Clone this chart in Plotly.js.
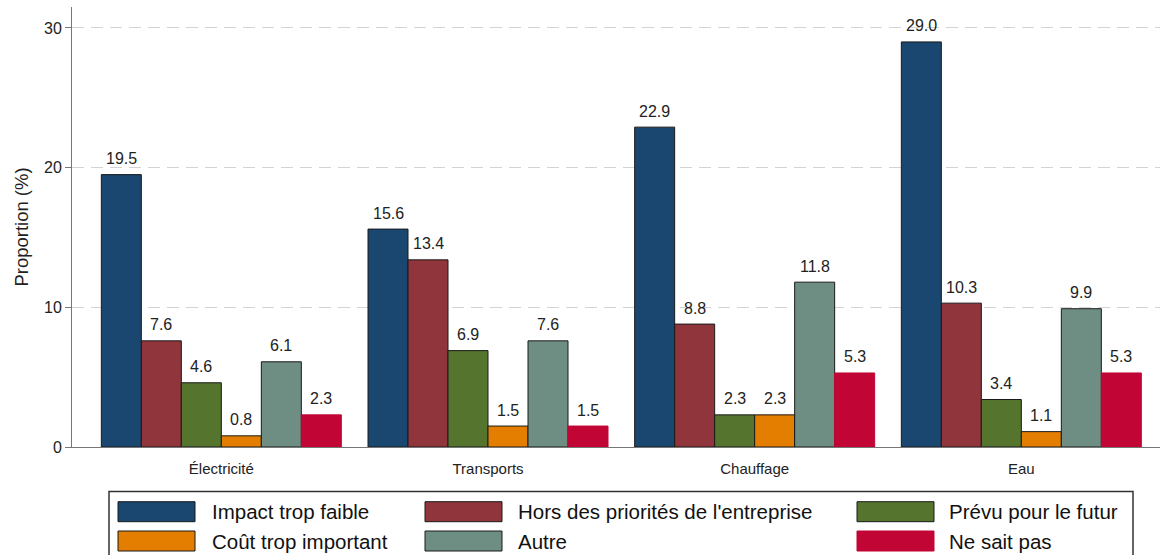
<!DOCTYPE html>
<html>
<head>
<meta charset="utf-8">
<script src="https://cdn.plot.ly/plotly-3.0.1.min.js"></script>
<style>html,body{margin:0;padding:0;background:#fff;}#chart{width:1164px;height:555px;}</style>
</head>
<body>
<div id="chart"></div>
<script>
// ---- data ----
var categories = ["Électricité", "Transports", "Chauffage", "Eau"];
var seriesNames = ["Impact trop faible", "Hors des priorités de l'entreprise", "Prévu pour le futur",
                   "Coût trop important", "Autre", "Ne sait pas"];
var impactTropFaible   = [19.5, 15.6, 22.9, 29.0];
var horsPriorites      = [7.6, 13.4, 8.8, 10.3];
var prevuFutur         = [4.6, 6.9, 2.3, 3.4];
var coutTropImportant  = [0.8, 1.5, 2.3, 1.1];
var autre              = [6.1, 7.6, 11.8, 9.9];
var neSaitPas          = [2.3, 1.5, 5.3, 5.3];
var yTicks = [0, 10, 20, 30];

// ---- styles ----
var seriesValues = [impactTropFaible, horsPriorites, prevuFutur, coutTropImportant, autre, neSaitPas];
var colors = ["#1a476f", "#90353b", "#55752f", "#e37e00", "#6e8e84", "#c10534"];
var outlines = ["#1a1a1a", "#1a1a1a", "#1a1a1a", "#1a1a1a", "#1a1a1a", "#c10534"];
var FONT = "Liberation Sans, Arial, sans-serif";
var BARGAP = 0.1;

var W = 1164, H = 555, ML = 72, MR = 4, MT = 7, MB = 108;
var PW = W - ML - MR, PH = H - MT - MB;
function px2x(px) { return (px - ML) / PW; }
function py2y(py) { return (H - MB - py) / PH; }

var nS = seriesValues.length;
var slot = (1 - BARGAP) / nS;

var traces = seriesValues.map(function (vals, i) {
  return {
    type: "bar",
    name: seriesNames[i],
    x: categories,
    y: vals,
    marker: { color: colors[i], line: { color: outlines[i], width: 1 } },
    hoverinfo: "skip"
  };
});

var shapes = [];
var annotations = [];

// ---- value labels above bars ----
seriesValues.forEach(function (vals, s) {
  vals.forEach(function (v, c) {
    annotations.push({
      xref: "x", yref: "y",
      x: c + (s - (nS - 1) / 2) * slot, y: v,
      xanchor: "center", yanchor: "middle", yshift: 16,
      showarrow: false, text: v.toFixed(1),
      font: { family: FONT, size: 16, color: "#222" }
    });
  });
});

// ---- custom legend ----
shapes.push({
  type: "rect", xref: "paper", yref: "paper",
  x0: px2x(109), x1: px2x(1133), y0: py2y(491.5), y1: py2y(565),
  line: { color: "#333", width: 1.5 }, fillcolor: "rgba(0,0,0,0)"
});
var swatchLeft = [118, 425, 857];
var textLeft = [210, 516, 947];
var rowCenter = [511.7, 541];
seriesNames.forEach(function (name, i) {
  var col = i % 3, row = Math.floor(i / 3);
  shapes.push({
    type: "rect", xref: "paper", yref: "paper",
    x0: px2x(swatchLeft[col]), x1: px2x(swatchLeft[col] + 77),
    y0: py2y(rowCenter[row] + 10), y1: py2y(rowCenter[row] - 10),
    fillcolor: colors[i], line: { color: outlines[i], width: 1 }
  });
  annotations.push({
    xref: "paper", yref: "paper",
    x: px2x(textLeft[col]), y: py2y(rowCenter[row]),
    xanchor: "left", yanchor: "middle", showarrow: false,
    text: name, font: { family: FONT, size: 20.5, color: "#111" }
  });
});

var layout = {
  width: W, height: H,
  margin: { l: ML, r: MR, t: MT, b: MB, pad: 0 },
  paper_bgcolor: "#fff", plot_bgcolor: "#fff",
  showlegend: false,
  barmode: "group", bargap: BARGAP, bargroupgap: 0,
  font: { family: FONT, color: "#222" },
  xaxis: {
    type: "category",
    range: [-0.56, 3.52],
    showline: true, linecolor: "#777", linewidth: 1,
    ticks: "", showgrid: false, zeroline: false,
    tickfont: { family: FONT, size: 15, color: "#222" },
    ticklabelstandoff: 8
  },
  yaxis: {
    range: [0, 31.5],
    tickvals: yTicks,
    ticktext: yTicks.map(String),
    ticks: "outside", ticklen: 6, tickcolor: "#777", tickwidth: 1,
    showline: true, linecolor: "#777", linewidth: 1,
    showgrid: true, gridcolor: "#d3d3d3", griddash: "12px,7px", gridwidth: 1,
    zeroline: false,
    tickfont: { family: FONT, size: 16, color: "#222" },
    title: { text: "Proportion (%)", font: { family: FONT, size: 18.5, color: "#222" }, standoff: 10 },
    automargin: false
  },
  shapes: shapes,
  annotations: annotations
};

Plotly.newPlot("chart", traces, layout, { displayModeBar: false, staticPlot: true });
</script>
</body>
</html>
